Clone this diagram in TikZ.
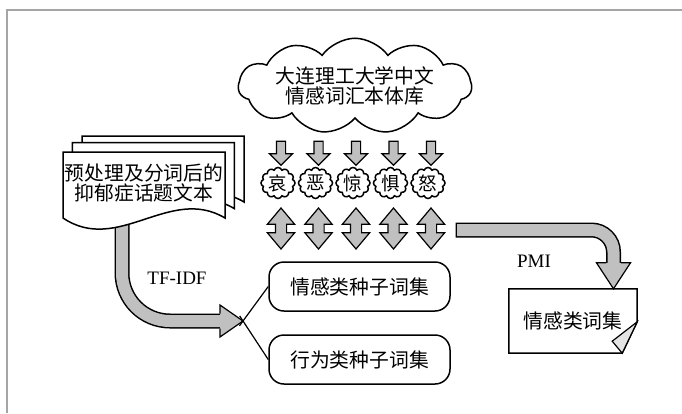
\documentclass[tikz,border=0pt]{standalone}
\usepackage{fontspec}
\setmainfont{Liberation Serif}
\newfontfamily\cjk{Noto Sans CJK SC}
\usepackage{tikz}
\usetikzlibrary{shapes.arrows,shapes.symbols}

\definecolor{arrowgray}{RGB}{192,192,192}
\definecolor{framegray}{RGB}{165,165,165}
\definecolor{foldgray}{RGB}{228,228,228}

\tikzset{
  seedbox/.style={draw,line width=1.5pt,rounded corners=15pt,minimum width=181pt,minimum height=49pt},
  downarr/.style={single arrow,draw,line width=1.2pt,fill=arrowgray,shape border rotate=270,
    minimum height=24pt,inner sep=4pt,single arrow head extend=7pt,single arrow tip angle=90},
  bothway/.style={double arrow,draw,line width=1.2pt,fill=arrowgray,shape border rotate=90,
    minimum height=41pt,inner sep=5pt,double arrow head extend=8pt,double arrow tip angle=80},
  emocloud/.style={cloud,draw,line width=1.5pt,cloud puffs=12,cloud puff arc=140,cloud ignores aspect,
    minimum width=34pt,minimum height=31pt,inner sep=-1pt,font=\cjk\fontsize{18.5}{19}\selectfont},
  latin/.style={font=\rmfamily\fontsize{19}{20}\selectfont}
}

\begin{document}
\begin{tikzpicture}[x=1pt,y=-1pt,font=\cjk\fontsize{19.8}{20}\selectfont]

\useasboundingbox (0,0) rectangle (682,413);
\draw[framegray,line width=1.2pt] (682,10) -- (7,10) -- (7,413);

% TF-IDF arrow
\coordinate (docsout) at (122,222);
\coordinate (split) at (243,321);
\draw[line width=15pt,rounded corners=48pt] (docsout) |- ([shift={(-23,0)}]split);
\draw[arrowgray,line width=12pt,rounded corners=48pt] (docsout) |- ([shift={(-22,0)}]split);
\filldraw[fill=arrowgray,line width=1.2pt] ([shift={(-23,-7.5)}]split) -- ++(0,-8.5) -- (split)
  -- ([shift={(-23,16)}]split) -- ++(0,-8.5);
\node[latin] (tfidf) at (177,278) {TF-IDF};

% stacked documents
\foreach \dx/\dy in {19/-16,9.3/-9.4,0/0}
  \filldraw[fill=white,line width=1.5pt,shift={(\dx,\dy)}] (63,152) -- (225,152) -- (225,218)
    .. controls (170,185) and (118,255) .. (63,218) -- cycle;
\node[align=center] (docs) at (144,183) {预处理及分词后的\\抑郁症话题文本};

% lexicon cloud
\node[cloud,draw,line width=1.5pt,cloud puffs=11,cloud puff arc=110,cloud ignores aspect,
  minimum width=229pt,minimum height=75pt,align=center] (corpus) at (355,86)
  {大连理工大学中文\\情感词汇本体库};

% emotions
\foreach \c [count=\i from 0] in {哀,恶,惊,惧,怒} {
  \node[downarr] (down\i) at ({281+37.5*\i},151) {};
  \node[emocloud] (emo\i) at ({278+37.5*\i},183) {\c};
  \node[bothway] (both\i) at ({281+37.5*\i},228.5) {};
}

% seed sets
\node[seedbox] (emoseed) at (359.5,286.5) {情感类种子词集};
\node[seedbox] (actseed) at (359.5,359.5) {行为类种子词集};
\draw[line width=1.2pt,shorten <=-6pt] (split) -- (emoseed.west);
\draw[line width=1.2pt,shorten <=-6pt] (split) -- (actseed.west);

% PMI arrow
\node[minimum width=128pt,minimum height=64pt] (lexicon) at (573,321) {情感类词集};
\coordinate (pmistart) at (457,230);
\coordinate (pmitip) at ([shift={(40.5,0)}]lexicon.north);
\draw[line width=15pt,rounded corners=22pt,shorten <=-1.5pt] (pmistart) -| ([shift={(0,-26)}]pmitip);
\draw[arrowgray,line width=12pt,rounded corners=22pt] (pmistart) -| ([shift={(0,-25)}]pmitip);
\filldraw[fill=arrowgray,line width=1.2pt] ([shift={(-7.5,-26)}]pmitip) -- ++(-9.5,0) -- (pmitip)
  -- ([shift={(17,-26)}]pmitip) -- ++(-9.5,0);
\node[latin] (pmi) at (534,261) {PMI};

% lexicon note
\draw[line width=1.5pt] (lexicon.north west) -- (lexicon.north east) -- ([shift={(0,33)}]lexicon.north east)
  -- ([shift={(-15,0)}]lexicon.south east) -- (lexicon.south west) -- cycle;
\filldraw[fill=foldgray,line width=1.2pt] ([shift={(0,33)}]lexicon.north east)
  -- ([shift={(-25,-12)}]lexicon.south east) -- ([shift={(-15,0)}]lexicon.south east) -- cycle;

\end{tikzpicture}
\end{document}
